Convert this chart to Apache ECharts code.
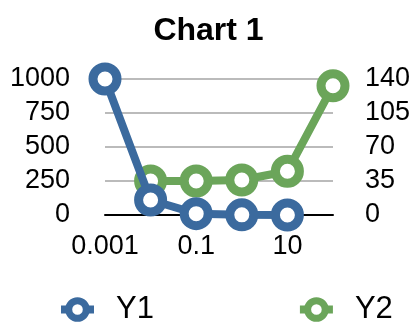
<!DOCTYPE html>
<html>
<head>
<meta charset="utf-8">
<script src="https://cdn.jsdelivr.net/npm/echarts@6/dist/echarts.min.js"></script>
<style>
  html, body { margin: 0; padding: 0; background: #fff; }
  #main { width: 417px; height: 322px; }
</style>
</head>
<body>
<div id="main"></div>
<script>
var categories = ['0.001', '0.01', '0.1', '1', '10', '100'];
var y1Values = [1000, 110, 10, 1, 0.1, null];
var y2Values = [null, 35, 35, 36, 45, 133];
var leftTicks = [0, 1000, 250];
var rightTicks = [0, 140, 35];

var blue = '#3b6a9e';
var green = '#6ba55a';
var font = 'Liberation Sans, Arial, Helvetica, sans-serif';

var chart = echarts.init(document.getElementById('main'));
var option = {
  animation: false,
  title: {
    text: 'Chart 1',
    left: 'center',
    top: 10,
    textStyle: { fontFamily: font, fontSize: 32, fontWeight: 'bold', color: '#000' }
  },
  legend: {
    data: ['Y1', 'Y2'],
    top: 289,
    left: 52,
    itemGap: 142,
    itemWidth: 33,
    itemHeight: 22,
    lineStyle: { width: 8 },
    itemStyle: { color: '#fff', borderWidth: 7 },
    textStyle: { fontFamily: font, fontSize: 31, color: '#000', padding: [0, 0, 0, 17] }
  },
  grid: { left: 105, right: 84, top: 79, bottom: 107 },
  xAxis: {
    type: 'category',
    data: categories,
    boundaryGap: false,
    axisLine: { lineStyle: { color: '#000', width: 2 } },
    axisTick: { show: false },
    axisLabel: { interval: 1, fontFamily: font, fontSize: 27, color: '#000', margin: 18 }
  },
  yAxis: [
    {
      type: 'value',
      min: leftTicks[0], max: leftTicks[1], interval: leftTicks[2],
      axisLine: { show: false },
      axisTick: { show: false },
      splitLine: { lineStyle: { color: '#bbb', width: 2 } },
      axisLabel: { fontFamily: font, fontSize: 27, color: '#000', margin: 35, formatter: function (v) { return String(v); } }
    },
    {
      type: 'value',
      min: rightTicks[0], max: rightTicks[1], interval: rightTicks[2],
      axisLine: { show: false },
      axisTick: { show: false },
      splitLine: { show: false },
      axisLabel: { fontFamily: font, fontSize: 27, color: '#000', margin: 32, formatter: function (v) { return String(v); } }
    }
  ],
  series: [
    {
      name: 'Y1',
      type: 'line',
      yAxisIndex: 0,
      data: y1Values,
      z: 3,
      clip: false,
      color: blue,
      symbol: 'circle',
      symbolSize: 24,
      lineStyle: { width: 8, color: blue },
      itemStyle: { color: '#fff', borderColor: blue, borderWidth: 9 }
    },
    {
      name: 'Y2',
      type: 'line',
      yAxisIndex: 1,
      data: y2Values,
      z: 2,
      clip: false,
      color: green,
      symbol: 'circle',
      symbolSize: 24,
      lineStyle: { width: 8, color: green },
      itemStyle: { color: '#fff', borderColor: green, borderWidth: 9 }
    }
  ]
};
chart.setOption(option);
</script>
</body>
</html>
